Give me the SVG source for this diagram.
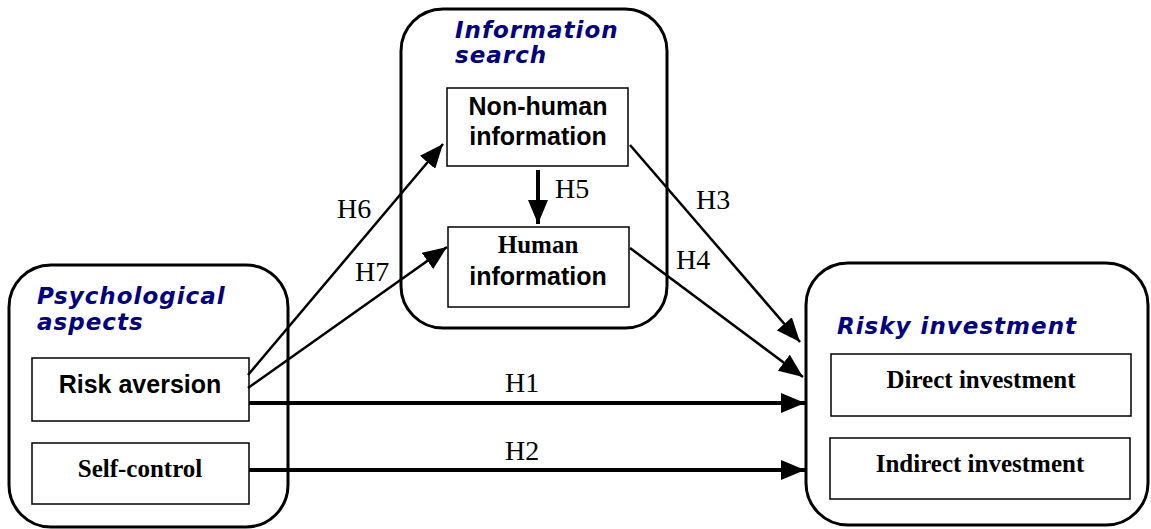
<svg xmlns="http://www.w3.org/2000/svg" width="1151" height="529" viewBox="0 0 1151 529">
  <style>
    .group { fill: #fff; stroke: #000; stroke-width: 3; }
    .box { fill: #fff; stroke: #000; stroke-width: 1.5; }
    .title { font-family: "DejaVu Sans", Verdana, sans-serif; font-weight: bold; font-style: italic; font-size: 23px; letter-spacing: 1px; fill: #000080; }
    .sans { font-family: "Liberation Sans", Arial, sans-serif; font-weight: bold; font-size: 25px; fill: #000; text-anchor: middle; }
    .serif { font-family: "Liberation Serif", "Times New Roman", serif; font-weight: bold; font-size: 25px; fill: #000; text-anchor: middle; }
    .hyp { font-family: "Liberation Serif", "Times New Roman", serif; font-size: 28px; fill: #000; }
    .link { fill: none; stroke: #000; stroke-width: 2.5; }
    .link.thick { stroke-width: 4; }
  </style>
  <defs>
    <marker id="head" markerUnits="userSpaceOnUse" viewBox="0 0 24 20" refX="24" refY="10" markerWidth="24" markerHeight="20" orient="auto">
      <path d="M0,0 L24,10 L0,20 Z" fill="#000"/>
    </marker>
  </defs>

  <!-- Information search group -->
  <g id="information-search">
    <rect class="group" x="401" y="9" width="266" height="319" rx="42" ry="42"/>
    <text class="title" x="455" y="38">Information</text>
    <text class="title" x="455" y="63">search</text>
  </g>
  <g id="non-human-information">
    <rect class="box" x="447" y="88" width="181" height="78"/>
    <text class="sans" x="538" y="115">Non-human</text>
    <text class="sans" x="538" y="145">information</text>
  </g>
  <g id="human-information">
    <rect class="box" x="448" y="227" width="181" height="80"/>
    <text class="serif" x="538" y="253" font-size="24">Human</text>
    <text class="sans" x="538" y="285">information</text>
  </g>

  <!-- Psychological aspects group -->
  <g id="psychological-aspects">
    <rect class="group" x="9" y="265" width="279" height="262" rx="42" ry="42"/>
    <text class="title" x="37" y="304">Psychological</text>
    <text class="title" x="37" y="330">aspects</text>
  </g>
  <g id="risk-aversion">
    <rect class="box" x="32" y="358" width="217" height="63"/>
    <text class="sans" x="140" y="393">Risk aversion</text>
  </g>
  <g id="self-control">
    <rect class="box" x="32" y="443" width="217" height="61"/>
    <text class="serif" x="140" y="477">Self-control</text>
  </g>

  <!-- Risky investment group -->
  <g id="risky-investment">
    <rect class="group" x="806" y="263" width="342" height="262" rx="42" ry="42"/>
    <text class="title" x="837" y="334">Risky investment</text>
  </g>
  <g id="direct-investment">
    <rect class="box" x="831" y="354" width="300" height="62"/>
    <text class="serif" x="981" y="388">Direct investment</text>
  </g>
  <g id="indirect-investment">
    <rect class="box" x="830" y="438" width="300" height="61"/>
    <text class="serif" x="980" y="472">Indirect investment</text>
  </g>

  <!-- Hypothesised paths -->
  <g id="connectors">
    <line class="link thick" x1="249" y1="403" x2="805" y2="403" marker-end="url(#head)"/>
    <line class="link thick" x1="249" y1="470" x2="805" y2="470" marker-end="url(#head)"/>
    <line class="link" x1="248" y1="375" x2="443" y2="144" marker-end="url(#head)"/>
    <line class="link" x1="248" y1="388" x2="447" y2="247" marker-end="url(#head)"/>
    <line class="link" x1="630" y1="145" x2="800" y2="342" marker-end="url(#head)"/>
    <line class="link" x1="630" y1="248" x2="803" y2="377" marker-end="url(#head)"/>
    <line class="link thick" x1="538" y1="170" x2="538" y2="224" marker-end="url(#head)"/>
    <text class="hyp" x="505" y="392">H1</text>
    <text class="hyp" x="505" y="460">H2</text>
    <text class="hyp" x="696" y="209">H3</text>
    <text class="hyp" x="676" y="269">H4</text>
    <text class="hyp" x="555" y="198">H5</text>
    <text class="hyp" x="337" y="218">H6</text>
    <text class="hyp" x="355" y="281">H7</text>
  </g>
</svg>
